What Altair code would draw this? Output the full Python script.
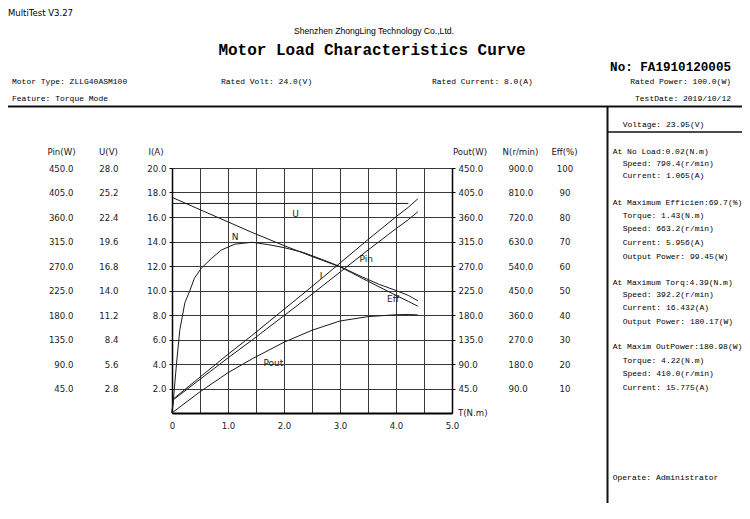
import altair as alt
import pandas as pd

# ---------------- data ----------------
torque = [0.0, 0.02, 0.5, 1.0, 1.43, 2.0, 2.5, 3.0, 3.5, 4.0, 4.22, 4.39]
current_a = [0.0, 1.065, 2.75, 4.5, 5.956, 7.95, 9.7, 11.5, 13.3, 15.05, 15.775, 16.432]
input_w = [0.0, 25.5, 65.9, 107.8, 142.6, 190.4, 232.3, 275.4, 318.5, 360.4, 377.8, 393.5]
speed_rpm = [792.0, 790.4, 747.0, 702.0, 663.2, 615.0, 575.0, 537.0, 484.0, 432.0, 410.0, 392.2]
output_w = [0.0, 1.7, 39.0, 74.0, 99.45, 130.0, 152.0, 169.0, 177.0, 180.5, 180.98, 180.17]

torque_u = [0.0, 4.22]
volt_u = [23.95, 23.95]

torque_eff = [0.0, 0.02, 0.08, 0.14, 0.23, 0.32, 0.40, 0.52, 0.70, 0.88, 1.12, 1.43,
              1.75, 2.0, 2.35, 2.7, 3.03, 3.4, 3.7, 4.0, 4.22, 4.39]
eff_pct = [0.0, 4.0, 20.0, 34.0, 45.0, 50.0, 55.0, 59.0, 63.0, 66.5, 68.9, 69.7,
           68.6, 67.5, 65.5, 62.5, 59.5, 55.5, 52.5, 50.0, 48.0, 45.8]

# tick values
x_ticks = [0, 0.5, 1.0, 1.5, 2.0, 2.5, 3.0, 3.5, 4.0, 4.5, 5.0]
i_ticks = [2, 4, 6, 8, 10, 12, 14, 16, 18, 20]
pin_ticks = [45, 90, 135, 180, 225, 270, 315, 360, 405, 450]
u_ticks = [2.8, 5.6, 8.4, 11.2, 14.0, 16.8, 19.6, 22.4, 25.2, 28.0]
pout_ticks = [45, 90, 135, 180, 225, 270, 315, 360, 405, 450]
n_ticks = [90, 180, 270, 360, 450, 540, 630, 720, 810, 900]
eff_ticks = [10, 20, 30, 40, 50, 60, 70, 80, 90, 100]

# text content
header_company = "Shenzhen ZhongLing Technology Co.,Ltd."
header_title = "Motor Load Characteristics Curve"
header_no = "No: FA1910120005"
header_row1 = ["Motor Type: ZLLG40ASM100", "Rated Volt: 24.0(V)", "Rated Current: 8.0(A)", "Rated Power: 100.0(W)"]
header_row2 = ["Feature: Torque Mode", "TestDate: 2019/10/12"]
panel_lines = [
    "Voltage: 23.95(V)",
    "At No Load:0.02(N.m)", "Speed: 790.4(r/min)", "Current: 1.065(A)",
    "At Maximum Efficien:69.7(%)", "Torque: 1.43(N.m)", "Speed: 663.2(r/min)",
    "Current: 5.956(A)", "Output Power: 99.45(W)",
    "At Maximum Torq:4.39(N.m)", "Speed: 392.2(r/min)", "Current: 16.432(A)",
    "Output Power: 180.17(W)",
    "At Maxim OutPower:180.98(W)", "Torque: 4.22(N.m)", "Speed: 410.0(r/min)",
    "Current: 15.775(A)",
    "Operate: Administrator",
]
axis_titles = ["Pin(W)", "U(V)", "I(A)", "Pout(W)", "N(r/min)", "Eff(%)"]
curve_labels = ["U", "N", "Pin", "I", "Eff", "Pout"]

# ---------------- layout ----------------
W, H = 280, 245
LEFT, TOP = 172, 168          # page position of plot origin
MONO = "Liberation Mono"
SANS = "DejaVu Sans"
GRID = "#3a3a3a"
INK = "#1a1a1a"
TXT = "#000000"
LBL = 8.6

df_main = pd.DataFrame({"T": torque, "I": current_a, "Pin": input_w,
                        "N": speed_rpm, "Pout": output_w})
df_u = pd.DataFrame({"T": torque_u, "U": volt_u})
df_eff = pd.DataFrame({"T": torque_eff, "Eff": eff_pct})

xenc = alt.X("T:Q", scale=alt.Scale(domain=[0, 5], nice=False, zero=False),
             axis=alt.Axis(values=x_ticks, grid=True, gridColor=GRID, gridWidth=1,
                           labelExpr="datum.value == 0 ? '0' : (datum.value % 1 == 0 ? format(datum.value, '.1f') : '')",
                           ticks=False, domainColor="#000", domainWidth=2,
                           labelFont=SANS, labelFontSize=LBL, labelColor=INK,
                           labelPadding=8, labelFlush=False, labelOverlap=False,
                           title=""))


def side_axis(orient, values, fmt, offset=0, main=False, align=None):
    kw = dict(orient=orient, values=values, format=fmt, title="",
              labelFont=SANS, labelFontSize=LBL, labelColor=INK,
              labelFlush=False, labelOverlap=False)
    if main:
        kw.update(domain=True, domainColor="#000", domainWidth=1.5, ticks=True,
                  tickSize=3, tickColor="#000", labelPadding=3)
    else:
        kw.update(domain=False, ticks=False, tickSize=0, labelPadding=0, offset=offset)
    if orient == "left":
        kw.update(grid=main, gridColor=GRID, gridWidth=1)
    else:
        kw.update(grid=False)
    if align:
        kw.update(labelAlign=align)
    return alt.Axis(**kw)


def curve(df, field, domain, axis):
    return alt.Chart(df).mark_line(color=INK, strokeWidth=1).encode(
        x=xenc,
        y=alt.Y(f"{field}:Q", scale=alt.Scale(domain=domain, nice=False, zero=True), axis=axis),
    )


layers = [
    curve(df_main, "I", [0, 20], side_axis("left", i_ticks, ".1f", main=True)),
    curve(df_main, "Pout", [0, 450], side_axis("right", pout_ticks, ".1f", main=True)),
    curve(df_main, "Pin", [0, 450], side_axis("left", pin_ticks, ".1f", offset=99)),
    curve(df_u, "U", [0, 28], side_axis("left", u_ticks, ".1f", offset=54)),
    curve(df_main, "N", [0, 900], side_axis("right", n_ticks, ".1f", offset=56, align="left")),
    curve(df_eff, "Eff", [0, 100], side_axis("right", eff_ticks, "d", offset=112.5, align="center")),
]


def txt(s, px, py, font=MONO, size=8, align="left", weight="normal", color=TXT, baseline="middle"):
    return alt.Chart(pd.DataFrame({"s": [s]})).mark_text(
        font=font, fontSize=size, align=align, baseline=baseline,
        fontWeight=weight, color=color,
    ).encode(x=alt.value(px - LEFT), y=alt.value(py - TOP), text="s:N")


def rule(px1, px2, py1, py2, w):
    return alt.Chart(pd.DataFrame({"a": [0]})).mark_rule(color="#111", strokeWidth=w).encode(
        x=alt.value(px1 - LEFT), x2=alt.value(px2 - LEFT),
        y=alt.value(py1 - TOP), y2=alt.value(py2 - TOP))


# header
layers.append(txt("MultiTest V3.27", 8, 9, font=SANS, size=8.5, baseline="top"))
layers.append(txt(header_company, 374, 31, font="Liberation Sans", size=8.6, align="center"))
layers.append(txt(header_title, 372, 50, size=16, align="center", weight="bold"))
layers.append(txt(header_no, 731, 67, size=12.6, align="right", weight="bold"))
for s, px, al in zip(header_row1, [12, 221, 432, 731], ["left", "left", "left", "right"]):
    layers.append(txt(s, px, 82, align=al))
for s, px, al in zip(header_row2, [12, 731], ["left", "right"]):
    layers.append(txt(s, px, 99, align=al))

# frame rules
layers.append(rule(0, 750, 106.5, 106.5, 2))
layers.append(rule(607.5, 607.5, 106.5, 503, 2))
layers.append(rule(607.5, 750, 132, 132, 1.5))

# right panel
panel_y = [125, 152, 163.5, 175.5, 203, 216, 228.7, 242.8, 256.5,
           282.7, 294.5, 308, 322, 347, 361, 374, 388, 478]
panel_x = [622.7, 612.7, 622.7, 622.7, 612.7, 622.7, 622.7, 622.7, 622.7,
           612.7, 622.7, 622.7, 622.7, 612.7, 622.7, 622.7, 622.7, 612.7]
for s, px, py in zip(panel_lines, panel_x, panel_y):
    layers.append(txt(s, px, py))

# axis titles
for s, px in zip(axis_titles, [61.5, 108.5, 156, 470, 520.5, 564.5]):
    layers.append(txt(s, px, 152, font=SANS, size=LBL, align="center", color=INK))
layers.append(txt("T(N.m)", 458, 413, font=SANS, size=LBL, color=INK))

# curve labels
for s, px, py in zip(curve_labels,
                     [295.5, 235, 366.3, 321, 393, 273.3],
                     [214, 237, 259.3, 276.3, 299, 363.3]):
    layers.append(txt(s, px, py, font=SANS, size=9, align="center", color=INK))

chart = alt.layer(*layers).resolve_scale(y="independent").properties(
    width=W, height=H,
    autosize=alt.AutoSizeParams(type="none"),
    padding={"left": LEFT - 8, "top": TOP - 8, "right": 734 - (LEFT - 8) - W, "bottom": 92},
    background="white",
).configure_view(strokeWidth=0)

chart.save("out.html", embed_options={"renderer": "svg", "actions": False})
